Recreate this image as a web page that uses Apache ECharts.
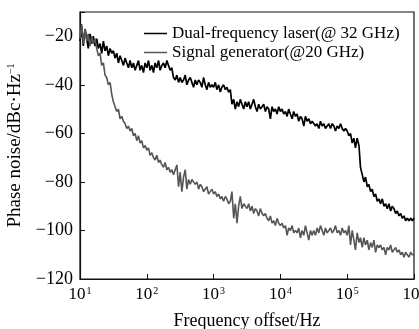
<!DOCTYPE html>
<html>
<head>
<meta charset="utf-8">
<script src="https://cdn.jsdelivr.net/npm/echarts@6/dist/echarts.min.js"></script>
<style>
html, body { margin: 0; padding: 0; background: #fff; }
#chart { width: 419px; height: 329px; }
</style>
</head>
<body>
<div id="chart"></div>
<script>
// offset frequency grid (Hz), 40 points per decade
var freqHz = [
  10,10.6,11.2,11.9,12.6,13.3,14.1,15,15.8,16.8,17.8,18.8,20,21.1,22.4,23.7,25.1,26.6,28.2,29.9,
  31.6,33.5,35.5,37.6,39.8,42.2,44.7,47.3,50.1,53.1,56.2,59.6,63.1,66.8,70.8,75,79.4,84.1,89.1,94.4,
  100,106,112,119,126,133,141,150,158,168,178,188,200,211,224,237,251,266,282,299,
  316,335,355,376,398,422,447,473,501,531,562,596,631,668,708,750,794,841,891,944,
  1000,1060,1120,1190,1260,1330,1410,1500,1580,1680,1780,1880,2000,2110,2240,2370,2510,2660,2820,2990,
  3160,3350,3550,3760,3980,4220,4470,4730,5010,5310,5620,5960,6310,6680,7080,7500,7940,8410,8910,9440,
  1e4,1.06e4,1.12e4,1.19e4,1.26e4,1.33e4,1.41e4,1.5e4,1.58e4,1.68e4,1.78e4,1.88e4,2e4,2.11e4,2.24e4,2.37e4,2.51e4,2.66e4,2.82e4,2.99e4,
  3.16e4,3.35e4,3.55e4,3.76e4,3.98e4,4.22e4,4.47e4,4.73e4,5.01e4,5.31e4,5.62e4,5.96e4,6.31e4,6.68e4,7.08e4,7.5e4,7.94e4,8.41e4,8.91e4,9.44e4,
  1e5,1.06e5,1.12e5,1.19e5,1.26e5,1.33e5,1.41e5,1.5e5,1.58e5,1.68e5,1.78e5,1.88e5,2e5,2.11e5,2.24e5,2.37e5,2.51e5,2.66e5,2.82e5,2.99e5,
  3.16e5,3.35e5,3.55e5,3.76e5,3.98e5,4.22e5,4.47e5,4.73e5,5.01e5,5.31e5,5.62e5,5.96e5,6.31e5,6.68e5,7.08e5,7.5e5,7.94e5,8.41e5,8.91e5,9.44e5,
  1e6
];

// dual-frequency laser @32 GHz (dBc/Hz)
var laserDbc = [
  -22,-16,-24,-17,-21,-25,-19,-23,-20,-24,
  -21,-25,-23,-27,-22,-26,-24,-28,-25,-27,
  -26,-29,-27,-31,-28,-30,-32,-29,-31,-33,
  -30,-33,-31,-34,-32,-30,-34,-32,-35,-31,
  -33,-30,-34,-32,-35,-31,-33,-30,-34,-32,
  -31,-33,-30,-32,-34,-33,-37,-38,-36,-39,
  -37,-39,-38,-36,-40,-38,-37,-39,-41,-38,
  -40,-38,-39,-41,-37,-40,-42,-39,-41,-40,
  -41,-39,-42,-40,-43,-41,-40,-42,-41,-43,
  -42,-48,-46,-50,-47,-49,-46,-48,-50,-47,
  -49,-47,-50,-48,-46,-49,-51,-48,-50,-49,
  -48,-51,-49,-50,-54,-49,-51,-50,-52,-49,
  -51,-50,-52,-51,-53,-50,-52,-54,-51,-53,
  -52,-55,-53,-54,-57,-53,-55,-54,-56,-55,
  -55,-57,-56,-58,-55,-57,-56,-58,-57,-56,
  -58,-56,-57,-59,-57,-58,-56,-58,-59,-58,
  -59,-61,-60,-64,-62,-66,-62,-65,-74,-77,
  -80,-78,-82,-81,-84,-83,-86,-85,-88,-87,
  -89,-87,-90,-89,-91,-89,-92,-90,-91,-93,
  -92,-94,-93,-95,-94,-96,-95,-96,-95,-96,
  -95
];

// signal generator @20 GHz (dBc/Hz)
var generatorDbc = [
  -21,-15,-23,-17,-22,-19,-24,-20,-23,-21,
  -25,-28,-27,-32,-31,-36,-37,-40,-39,-44,
  -47,-49,-51,-50,-54,-53,-55,-56,-58,-57,
  -59,-58,-61,-60,-63,-61,-64,-63,-66,-65,
  -67,-66,-69,-68,-70,-71,-69,-72,-71,-73,
  -74,-72,-75,-74,-76,-75,-77,-77,-73,-82,
  -76,-84,-78,-75,-83,-79,-81,-79,-80,-81,
  -80,-83,-81,-82,-84,-83,-82,-85,-84,-83,
  -85,-84,-86,-85,-87,-86,-88,-86,-87,-89,
  -88,-84,-95,-89,-97,-90,-86,-91,-89,-90,
  -91,-89,-92,-90,-93,-91,-92,-94,-91,-93,
  -94,-93,-95,-96,-94,-97,-96,-98,-95,-97,
  -98,-97,-99,-98,-102,-99,-100,-98,-101,-100,
  -101,-99,-103,-100,-102,-98,-101,-104,-100,-102,
  -100,-102,-99,-101,-98,-100,-102,-99,-101,-100,
  -99,-101,-100,-98,-101,-100,-102,-99,-101,-100,
  -102,-98,-106,-100,-104,-108,-101,-105,-103,-107,
  -103,-106,-104,-108,-105,-107,-104,-109,-106,-107,
  -106,-108,-107,-110,-107,-108,-106,-109,-108,-107,
  -109,-108,-110,-109,-111,-109,-110,-111,-109,-110,
  -110
];

var seriesNames = ['Dual-frequency laser(@ 32 GHz)', 'Signal generator(@20 GHz)'];
var yMin = -120, yMax = -10, yStep = 20;

var serif = 'Liberation Serif';
var chart = echarts.init(document.getElementById('chart'));

chart.setOption({
  animation: false,
  grid: {
    left: 80, top: 12, right: 5, bottom: 50,
    outerBoundsMode: 'none',
    show: true, borderColor: '#111', borderWidth: 1.2
  },
  legend: {
    left: 139, top: 20, orient: 'vertical',
    icon: 'rect', itemWidth: 23, itemHeight: 1.5, itemGap: 2,
    textStyle: { fontFamily: serif, fontSize: 17, color: '#000' },
    data: seriesNames
  },
  xAxis: {
    type: 'log', logBase: 10, min: 10, max: 1e6,
    name: 'Frequency offset/Hz', nameLocation: 'middle', nameGap: 33,
    nameTextStyle: { fontFamily: serif, fontSize: 18, color: '#000' },
    axisLine: { lineStyle: { color: '#111', width: 1.2 } },
    axisTick: { inside: true, length: 5, lineStyle: { color: '#111' } },
    minorTick: { show: false },
    splitLine: { show: false },
    axisLabel: {
      margin: 7,
      formatter: function (v) {
        return '{b|10}{s|' + Math.round(Math.log10(v)) + '}';
      },
      rich: {
        b: { fontFamily: serif, fontSize: 17, color: '#000' },
        s: { fontFamily: serif, fontSize: 10, color: '#000', verticalAlign: 'top', padding: [0, 0, 8, 1] }
      }
    }
  },
  yAxis: {
    type: 'value', min: yMin, max: yMax, interval: yStep,
    name: '{t|Phase noise/dBc·Hz}{s|−1}', nameLocation: 'middle', nameGap: 51,
    nameTextStyle: {
      rich: {
        t: { fontFamily: serif, fontSize: 19, color: '#000' },
        s: { fontFamily: serif, fontSize: 10, color: '#000', verticalAlign: 'top', padding: [0, 0, 9, 0] }
      }
    },
    axisLine: { show: true, lineStyle: { color: '#111', width: 1.2 } },
    axisTick: { show: true, inside: true, length: 5, lineStyle: { color: '#111' } },
    splitLine: { show: false },
    axisLabel: {
      margin: 7, fontFamily: serif, fontSize: 18, color: '#000',
      formatter: function (v) {
        if (v === yMax) return '';
        return String(v).replace('-', '−');
      }
    }
  },
  series: [
    {
      name: seriesNames[0], type: 'line', symbol: 'none',
      lineStyle: { color: '#000', width: 1.7 },
      itemStyle: { color: '#000' },
      data: freqHz.map(function (f, i) { return [f, laserDbc[i]]; })
    },
    {
      name: seriesNames[1], type: 'line', symbol: 'none',
      lineStyle: { color: '#555', width: 1.6 },
      itemStyle: { color: '#555' },
      data: freqHz.map(function (f, i) { return [f, generatorDbc[i]]; })
    }
  ]
});
</script>
</body>
</html>
